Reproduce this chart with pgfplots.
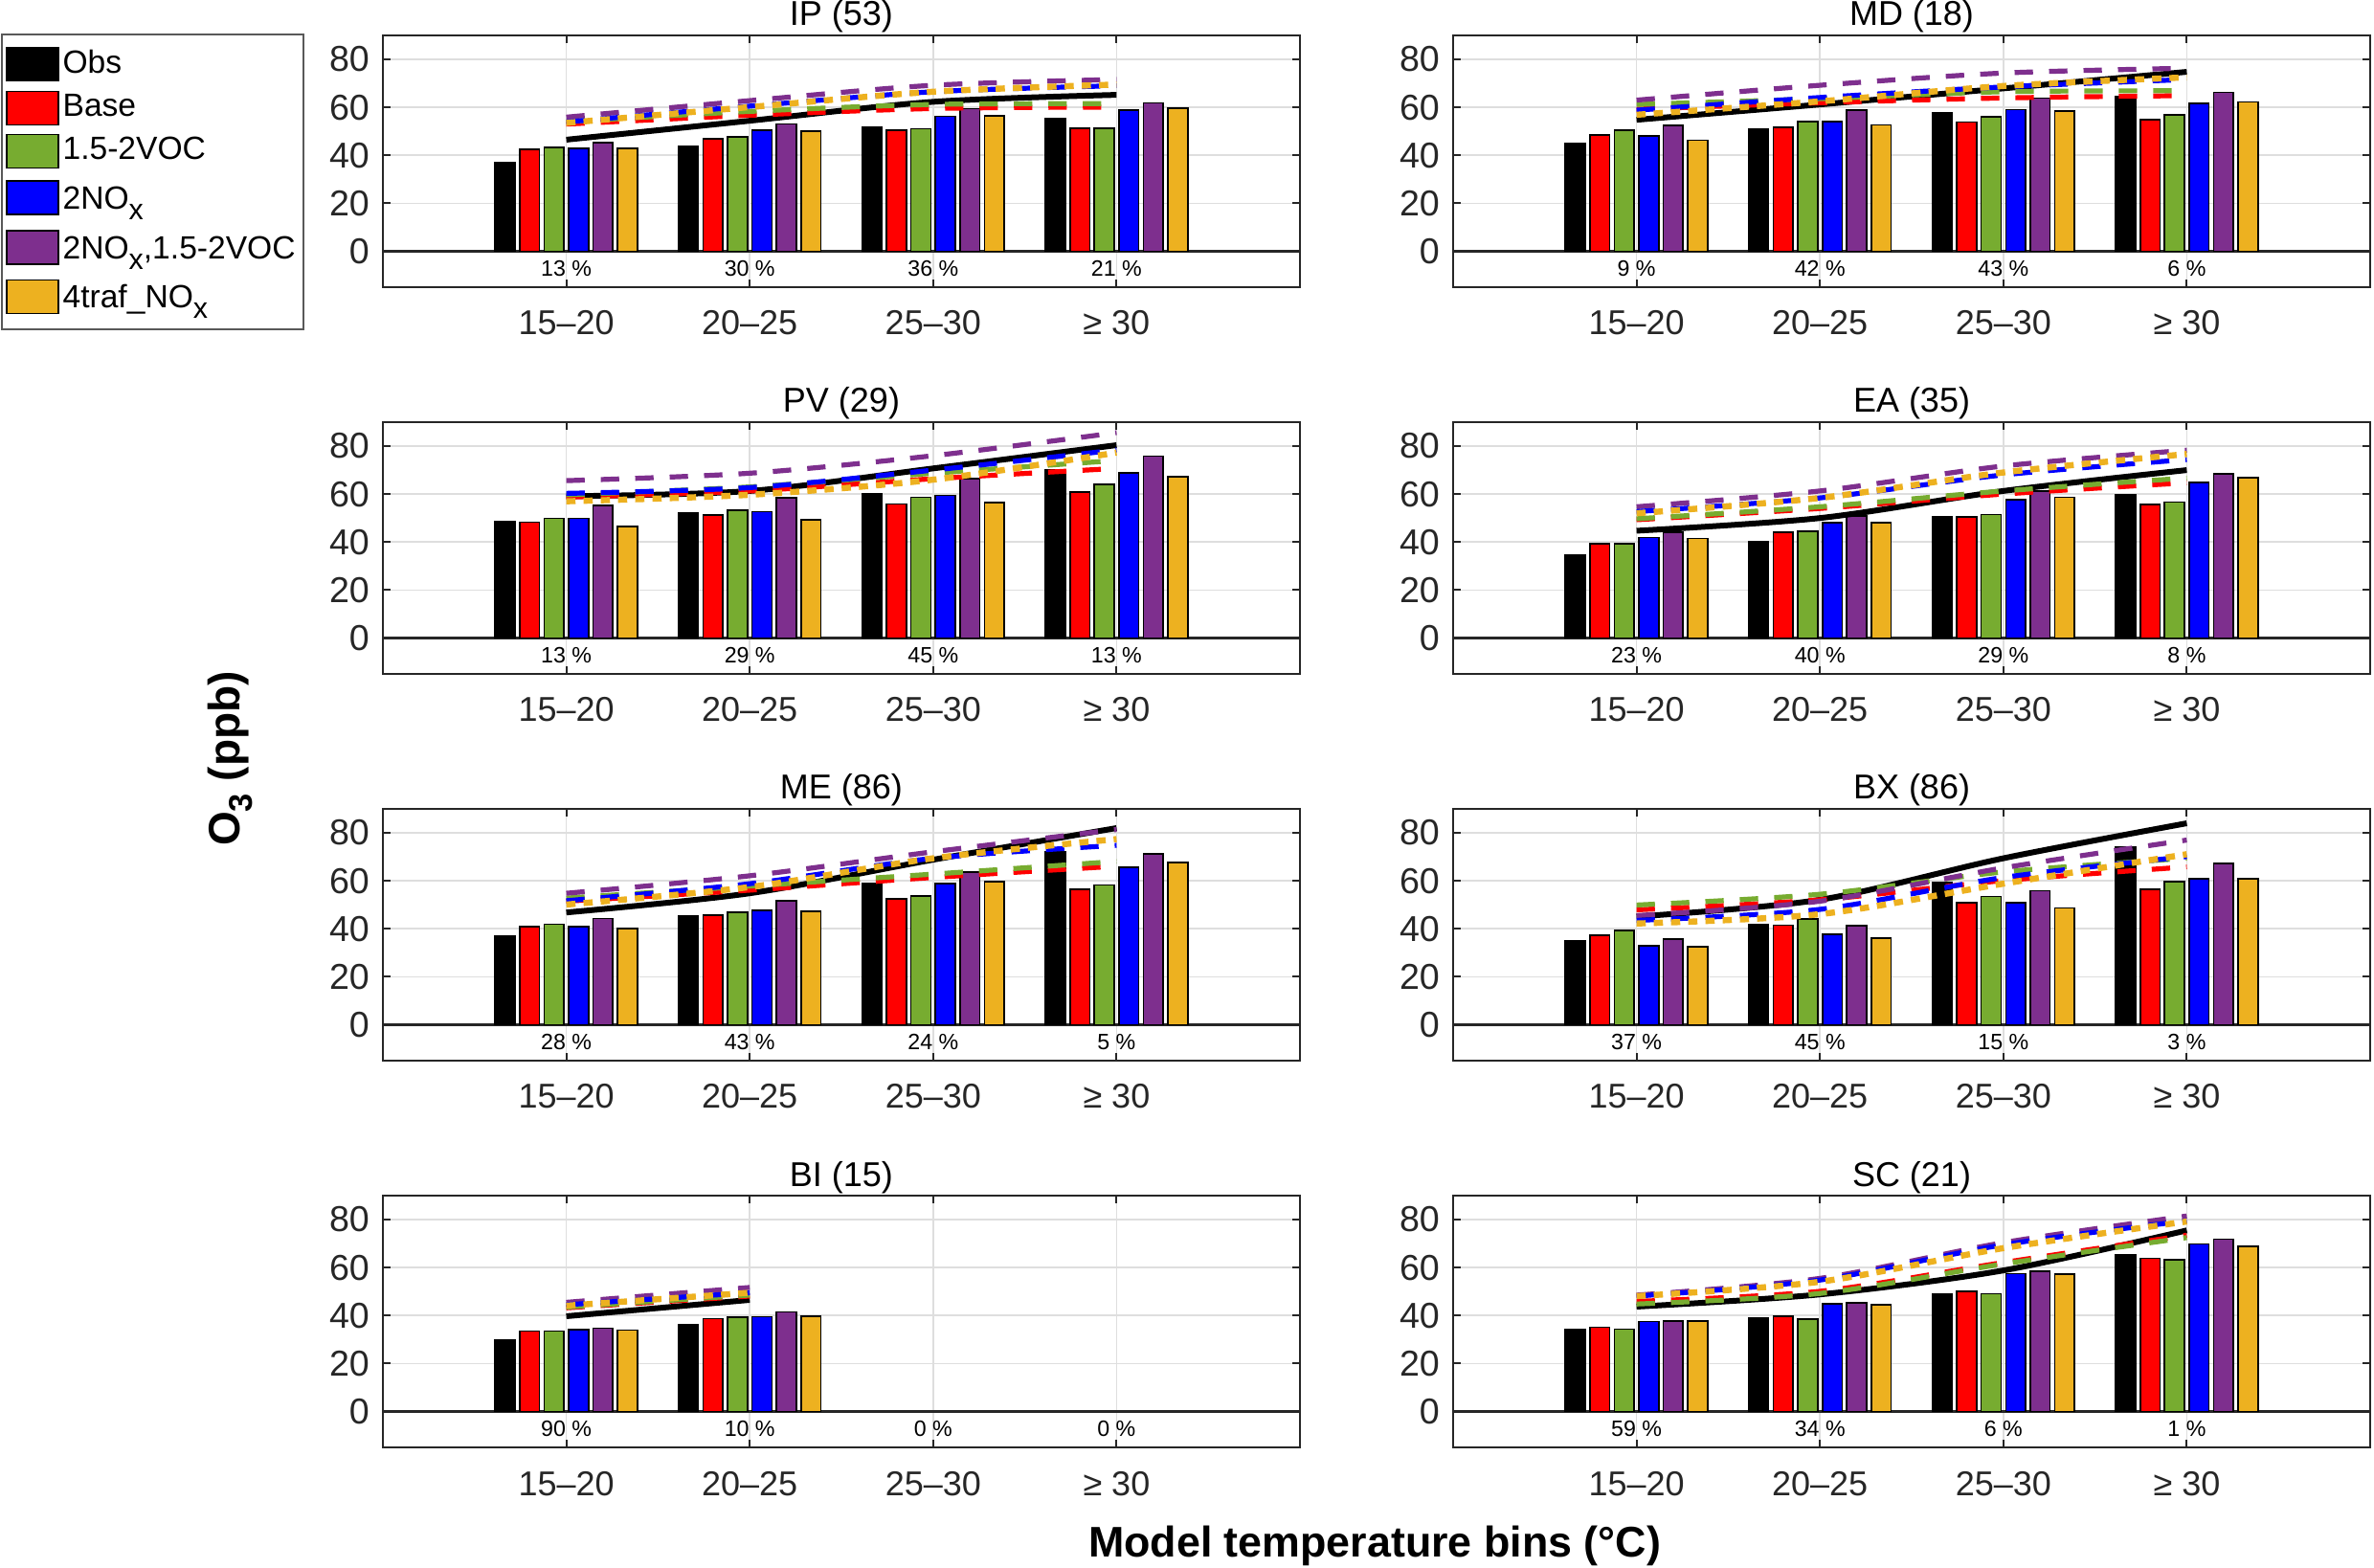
\documentclass[border=0pt]{standalone}
\usepackage{fontspec}
\setmainfont{Liberation Sans}
\usepackage{pgfplots}
\usepackage{pgfplotstable}
\pgfplotsset{compat=1.18}

\definecolor{cgreen}{rgb}{0.466,0.674,0.188}
\definecolor{cpurple}{rgb}{0.494,0.184,0.556}
\definecolor{corange}{rgb}{0.929,0.694,0.125}
\definecolor{axgray}{rgb}{0.15,0.15,0.15}

% subscript for legend entries (with extra room, as the original legend rows have)
\newcommand\subx[1]{\raisebox{-0.33em}{\fontsize{7.6}{8}\selectfont #1}\rule[-4.3pt]{0pt}{11.7pt}}
\newcommand\subO[1]{\raisebox{-0.3em}{\fontsize{8.6}{9}\selectfont #1}}

% columns: bars (obs base voc nox nv traf), lines (L...)
\pgfplotstableread{
x obs base voc nox nv traf Lobs Lbase Lvoc Lnox Lnv Ltraf
1 37.0 42.5 43.3 43.0 45.2 42.9 46.5 53.0 54.0 53.9 55.9 53.5
2 43.9 46.9 47.7 50.4 53.0 50.0 54.4 56.7 58.3 60.5 62.8 60.1
3 51.7 50.4 51.0 56.3 59.5 56.4 62.3 59.5 61.2 66.5 69.2 66.5
4 55.3 51.3 51.3 58.9 61.9 59.6 65.2 60.1 61.5 69.0 71.6 69.5
}\IPdata
\pgfplotstableread{
x obs base voc nox nv traf Lobs Lbase Lvoc Lnox Lnv Ltraf
1 44.9 48.5 50.5 48.1 52.5 46.3 54.8 59.2 61.2 58.8 63.0 56.9
2 50.9 51.7 54.0 54.0 58.8 52.7 61.2 61.9 63.6 64.1 69.2 62.5
3 57.7 53.9 56.1 59.1 63.9 58.5 67.9 63.9 66.5 68.5 74.3 68.9
4 64.5 54.8 56.8 61.7 66.3 62.3 74.8 64.9 66.9 71.6 76.3 72.5
}\MDdata
\pgfplotstableread{
x obs base voc nox nv traf Lobs Lbase Lvoc Lnox Lnv Ltraf
1 48.7 48.3 49.9 49.9 55.3 46.5 59.1 58.7 59.7 60.3 65.6 57.0
2 52.0 51.2 53.2 52.7 58.5 49.3 61.3 61.3 63.0 62.7 68.7 59.7
3 60.3 55.9 58.7 59.5 66.5 56.4 70.7 66.4 68.7 70.0 76.0 66.0
4 70.3 60.9 64.0 68.8 75.9 67.2 80.4 70.7 74.0 78.4 85.6 77.3
}\PVdata
\pgfplotstableread{
x obs base voc nox nv traf Lobs Lbase Lvoc Lnox Lnv Ltraf
1 34.5 39.3 39.3 41.9 44.1 41.5 44.7 49.3 49.7 52.7 54.7 52.0
2 40.0 44.0 44.4 48.0 50.9 48.0 50.0 54.0 54.7 58.4 61.3 58.4
3 50.7 50.5 51.5 57.7 61.2 58.7 61.3 60.0 61.3 68.0 71.7 69.0
4 59.7 55.6 56.7 64.9 68.5 66.8 70.0 64.7 66.7 74.4 78.3 76.7
}\EAdata
\pgfplotstableread{
x obs base voc nox nv traf Lobs Lbase Lvoc Lnox Lnv Ltraf
1 37.0 41.0 41.9 40.8 44.3 40.2 46.8 51.5 52.8 51.7 54.8 50.1
2 45.2 45.7 46.9 47.7 51.7 47.3 54.8 56.1 57.8 58.8 62.1 57.4
3 58.9 52.4 53.7 58.8 63.7 59.6 68.8 61.4 62.8 69.4 72.1 69.4
4 72.1 56.5 58.2 65.7 71.3 67.6 82.0 66.1 68.1 74.8 81.4 77.4
}\MEdata
\pgfplotstableread{
x obs base voc nox nv traf Lobs Lbase Lvoc Lnox Lnv Ltraf
1 35.0 37.2 39.2 33.0 35.8 32.6 45.1 47.9 49.9 43.5 45.5 42.2
2 41.8 41.5 44.0 37.8 41.4 36.0 52.1 52.1 54.4 48.1 51.5 46.1
3 59.4 50.8 53.5 50.8 55.9 48.7 69.4 60.1 63.7 61.4 65.4 58.8
4 74.1 56.5 59.6 60.8 67.2 60.9 84.0 65.8 69.4 70.1 77.0 71.1
}\BXdata
\pgfplotstableread{
x obs base voc nox nv traf Lobs Lbase Lvoc Lnox Lnv Ltraf
1 29.6 33.5 33.5 34.0 34.7 33.9 39.7 43.2 43.5 44.5 45.5 44.1
2 36.1 38.7 39.2 39.5 41.5 39.6 46.5 48.1 48.5 49.5 51.7 49.5
}\BIdata
\pgfplotstableread{
x obs base voc nox nv traf Lobs Lbase Lvoc Lnox Lnv Ltraf
1 34.0 35.1 34.3 37.5 37.7 37.6 43.7 45.9 44.8 48.1 48.5 48.1
2 38.9 39.6 38.5 44.9 45.2 44.5 48.8 50.1 49.2 54.8 55.5 54.1
3 49.1 50.0 49.1 57.5 58.5 57.3 58.8 62.1 61.5 69.5 70.4 68.1
4 65.3 63.9 63.2 69.9 71.9 68.9 75.5 73.5 72.5 79.5 81.5 79.2
}\SCdata

\pgfplotsset{
  panel/.style={
    scale only axis, width=239.5pt, height=65.75pt,
    xmin=0, xmax=5, ymin=-15, ymax=90,
    xtick={1,2,3,4}, xticklabels={15–20,20–25,25–30,{≥ 30}},
    ytick={0,20,40,60,80},
    xmajorgrids, ymajorgrids,
    grid style={line width=0.4pt, draw=black!13},
    axis line style={draw=axgray, line width=0.5pt},
    tick style={draw=axgray, line width=0.5pt},
    major tick length=2pt,
    tick align=inside, xtick pos=both, ytick pos=both,
    /pgf/number format/assume math mode=true,
    yticklabel style={font=\fontsize{9.4}{10}\selectfont, text=axgray},
    xticklabel style={font=\fontsize{9}{10}\selectfont, text=axgray, anchor=base, yshift=-12.5pt},
    every axis title shift=0pt,
    title style={font=\fontsize{9}{10}\selectfont, at={(0.5,1)}, anchor=base, yshift=2.5pt},
    extra y ticks={0}, extra y tick labels={},
    extra y tick style={grid=major, major grid style={draw=axgray, line width=0.6pt}},
  },
  mybar/.style={ybar, bar width=0.108, bar shift=0pt, draw=black, line width=0.4pt, fill=#1,
    legend image code/.code={\draw[##1, line width=0.4pt] (0pt,-4.375pt) rectangle (13.5pt,4.375pt);}},
  lobs/.style={black, line width=1.5pt, smooth, no markers, forget plot},
  ldash/.style={draw=#1, line width=1.3pt, dash pattern=on 4.8pt off 4.2pt, smooth, no markers, forget plot},
  ldot/.style={draw=corange, line width=1.6pt, dash pattern=on 2.4pt off 2.1pt, smooth, no markers, forget plot},
}
\tikzset{pct/.style={font=\fontsize{5.8}{6}\selectfont, text=black}}

\newcommand\panel[8]{%
\begin{axis}[panel, at={(#1)}, anchor=north west, title={#2}, #8]
\addplot[mybar=black]   table[x expr=\thisrow{x}-0.334, y=obs]  {#3};
\addplot[mybar=red]     table[x expr=\thisrow{x}-0.2,   y=base] {#3};
\addplot[mybar=cgreen]  table[x expr=\thisrow{x}-0.067, y=voc]  {#3};
\addplot[mybar=blue]    table[x expr=\thisrow{x}+0.067, y=nox]  {#3};
\addplot[mybar=cpurple] table[x expr=\thisrow{x}+0.2,   y=nv]   {#3};
\addplot[mybar=corange] table[x expr=\thisrow{x}+0.334, y=traf] {#3};
\addplot[lobs]          table[x=x, y=Lobs]  {#3};
\addplot[ldash=red]     table[x=x, y=Lbase] {#3};
\addplot[ldash=cgreen]  table[x=x, y=Lvoc]  {#3};
\addplot[ldash=cpurple] table[x=x, y=Lnv]   {#3};
\addplot[ldash=blue]    table[x=x, y=Lnox]  {#3};
\addplot[ldot]          table[x=x, y=Ltraf] {#3};
\node[pct] at (axis cs:1,-7.2) {#4 \%};
\node[pct] at (axis cs:2,-7.2) {#5 \%};
\node[pct] at (axis cs:3,-7.2) {#6 \%};
\node[pct] at (axis cs:4,-7.2) {#7 \%};
\end{axis}}

\begin{document}
\begin{tikzpicture}
\useasboundingbox (0,0) rectangle (620pt,409.25pt);

\panel{100pt,400pt}{IP (53)}{\IPdata}{13}{30}{36}{21}{%
  legend entries={Obs,Base,1.5-2VOC,2NO\subx{x},{2NO\subx{x},1.5-2VOC},4traf\_NO\subx{x}},
  legend cell align=left,
  legend style={at={(-0.41649,1.0076)}, anchor=north west, draw=black!65, line width=0.5pt,
    fill=white, font=\fontsize{8.4}{10}\selectfont, row sep=0pt,
    inner xsep=1pt, inner ysep=2pt, nodes={inner xsep=1pt}}}
\panel{379.5pt,400pt}{MD (18)}{\MDdata}{9}{42}{43}{6}{}
\panel{100pt,299pt}{PV (29)}{\PVdata}{13}{29}{45}{13}{}
\panel{379.5pt,299pt}{EA (35)}{\EAdata}{23}{40}{29}{8}{}
\panel{100pt,198pt}{ME (86)}{\MEdata}{28}{43}{24}{5}{}
\panel{379.5pt,198pt}{BX (86)}{\BXdata}{37}{45}{15}{3}{}
\panel{100pt,97pt}{BI (15)}{\BIdata}{90}{10}{0}{0}{}
\panel{379.5pt,97pt}{SC (21)}{\SCdata}{59}{34}{6}{1}{}

\node[rotate=90, anchor=base, font=\fontsize{11.5}{13}\selectfont\bfseries] at (62.5pt,211.1pt) {O\subO{3} (ppb)};
\node[anchor=base, font=\fontsize{11.2}{13}\selectfont\bfseries] at (359pt,2.6pt) {Model temperature bins (°C)};
\end{tikzpicture}
\end{document}
